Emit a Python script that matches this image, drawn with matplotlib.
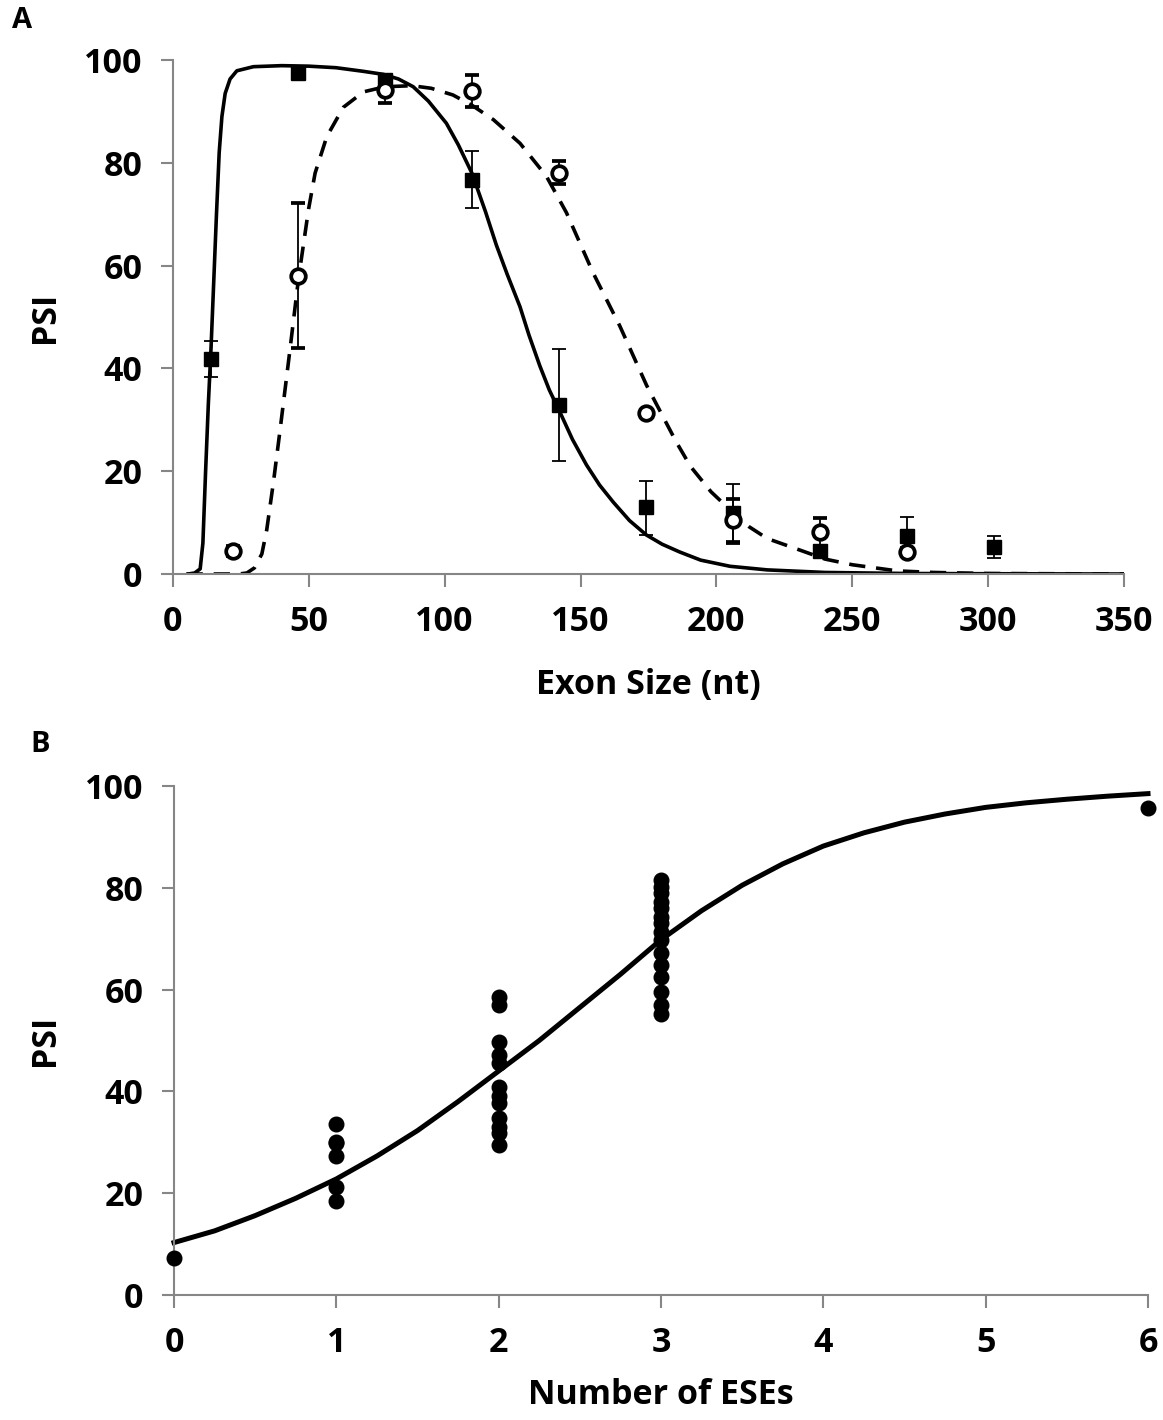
import numpy as np
import matplotlib
matplotlib.use('Agg')
import matplotlib.pyplot as plt

plt.rcParams['font.family'] = ['Open Sans', 'DejaVu Sans']
plt.rcParams['font.weight'] = 'bold'

# --- panel A: exon size series ---
sq_x = [14, 46, 78, 110, 142, 174, 206, 238, 270, 302]
sq_y = [41.8, 97.4, 96.2, 76.7, 32.8, 13.0, 11.8, 4.5, 7.3, 5.3]
sq_lo = [38.3, 96.8, 95.6, 71.3, 22.0, 7.6, 5.8, 3.8, 3.5, 3.2]
sq_hi = [45.4, 98.0, 96.8, 82.2, 43.7, 18.1, 17.5, 5.2, 11.1, 7.3]

circ_x = [22, 46, 78, 110, 142, 174, 206, 238, 270]
circ_y = [4.4, 58.0, 94.2, 93.9, 78.0, 31.3, 10.5, 8.1, 4.3]
circ_lo = [3.5, 44.0, 91.6, 90.8, 75.8, 30.5, 6.2, 5.5, 3.5]
circ_hi = [5.5, 72.2, 96.8, 97.1, 80.3, 32.0, 14.6, 10.9, 5.0]

# fitted curves, sampled from the figure
fit_solid_x = [5.6, 8, 10, 11, 12, 13, 14, 15, 16, 17, 18, 19.2, 21, 23.5, 29.6, 40, 50, 60,
               70, 77.5, 83, 88.4, 94, 100.6, 105, 110, 115, 119, 123, 127.7, 131, 135,
               138.5, 142.4, 147, 152.2, 157, 162, 168, 174.2, 180, 186.4, 194.2, 205,
               218.7, 240, 270, 300, 350]
fit_solid_y = [0, 0.2, 1.0, 6.0, 20.0, 33.0, 44.0, 57.0, 70.0, 82.0, 89.0, 93.5, 96.3, 97.9,
               98.7, 98.9, 98.8, 98.5, 97.8, 97.2, 96.3, 94.8, 92.0, 87.7, 83.5, 78.0, 70.5,
               64.0, 58.3, 52.0, 46.5, 40.5, 35.8, 31.5, 26.2, 21.2, 17.3, 14.0, 10.4, 7.6,
               5.8, 4.3, 2.7, 1.5, 0.8, 0.3, 0.1, 0.05, 0]

fit_dash_x = [5, 20, 25, 27.2, 30, 32.7, 34.5, 37, 39.4, 42.9, 46.2, 49.9, 52.3, 56.6, 62.7,
              70.1, 78, 88, 95, 103, 110, 117.9, 127.7, 137.4, 144.8, 154.6, 164.4, 174.3,
              185.2, 190.5, 198, 206.4, 212, 218.7, 231, 240, 250, 266.6, 280, 300, 350]
fit_dash_y = [0, 0, 0.05, 0.2, 1.2, 3.9, 8.6, 18.0, 28.0, 43.0, 57.5, 71.0, 78.0, 85.1, 90.8,
              93.8, 94.8, 95.0, 94.5, 93.2, 91.2, 88.4, 83.8, 77.4, 70.3, 58.6, 48.3, 36.7,
              25.7, 20.9, 16.0, 11.8, 9.2, 6.9, 4.6, 2.9, 1.8, 0.6, 0.3, 0.1, 0]

# --- panel B: number of ESEs ---
ese_x = ([0] + [1] * 6 + [2] * 12 + [3] * 15 + [6])
ese_psi = ([7.2]
           + [33.6, 30.0, 29.8, 27.3, 21.3, 18.5]
           + [58.6, 57.0, 49.8, 47.2, 45.5, 40.9, 39.0, 37.7, 34.7, 33.1, 31.8, 29.5]
           + [81.5, 80.2, 78.9, 77.3, 76.0, 74.3, 73.0, 71.4, 69.7, 67.1, 64.8, 62.5, 59.6,
              57.0, 55.3]
           + [95.6])

fit_b_x = [0, 0.25, 0.5, 0.75, 1, 1.25, 1.5, 1.75, 2, 2.25, 2.5, 2.75, 3, 3.25, 3.5, 3.75,
           4, 4.25, 4.5, 4.75, 5, 5.25, 5.5, 5.75, 6]
fit_b_y = [10.3, 12.6, 15.6, 19.0, 22.8, 27.3, 32.3, 38.0, 44.0, 50.0, 56.5, 63.0, 69.8,
           75.5, 80.5, 84.7, 88.2, 90.8, 92.9, 94.5, 95.8, 96.7, 97.4, 98.0, 98.5]

W, H = 1163, 1420
fig = plt.figure(figsize=(W / 100, H / 100), dpi=100)

grey = '#868686'
fs = 24.5


def style_axes(ax):
    for s in ['top', 'right']:
        ax.spines[s].set_visible(False)
    for s in ['left', 'bottom']:
        ax.spines[s].set_color(grey)
        ax.spines[s].set_linewidth(1.5)
    ax.tick_params(direction='out', length=9, width=1.5, color=grey,
                   labelsize=fs, pad=13)
    for lab in ax.get_xticklabels() + ax.get_yticklabels():
        lab.set_fontweight('bold')


# panel A
axA = fig.add_axes([173 / W, 1 - 574 / H, 951 / W, 514 / H])
axA.plot(fit_solid_x, fit_solid_y, color='black', lw=2.6, zorder=2)
axA.plot(fit_dash_x, fit_dash_y, color='black', lw=2.6, dashes=(4.5, 3), zorder=2)

sq_err = [np.array(sq_y) - np.array(sq_lo), np.array(sq_hi) - np.array(sq_y)]
circ_err = [np.array(circ_y) - np.array(circ_lo), np.array(circ_hi) - np.array(circ_y)]
axA.errorbar(sq_x, sq_y, yerr=sq_err, fmt='s', color='black', ms=10.5,
             ecolor='black', elinewidth=1.3, capsize=5, capthick=1.3, zorder=3)
axA.errorbar(circ_x, circ_y, yerr=circ_err, fmt='o', mfc='white', mec='black', mew=2.7,
             ms=10.5, ecolor='black', elinewidth=1.3, capsize=5, capthick=1.3, zorder=4)

axA.set_xlim(0, 350)
axA.set_ylim(0, 100)
axA.set_xticks(range(0, 351, 50))
axA.set_yticks(range(0, 101, 20))
style_axes(axA)
axA.set_xlabel('Exon Size (nt)', fontsize=fs, fontweight='bold')
axA.set_ylabel('PSI', fontsize=fs, fontweight='bold')
axA.xaxis.set_label_coords(0.5, -111 / 514)
axA.xaxis.label.set_va('center')
axA.yaxis.set_label_coords(-128 / 951, 0.5)
axA.yaxis.label.set_va('center')

# panel B
axB = fig.add_axes([174 / W, 1 - 1295 / H, 974 / W, 509 / H])
axB.plot(fit_b_x, fit_b_y, color='black', lw=3.6, zorder=2, clip_on=False)
axB.plot(ese_x, ese_psi, 'o', color='black', ms=10.5, zorder=3, clip_on=False)
axB.set_xlim(0, 6)
axB.set_ylim(0, 100)
axB.set_xticks(range(0, 7))
axB.set_yticks(range(0, 101, 20))
style_axes(axB)
axB.set_xlabel('Number of ESEs', fontsize=fs, fontweight='bold')
axB.set_ylabel('PSI', fontsize=fs, fontweight='bold')
axB.xaxis.set_label_coords(0.5, -100 / 509)
axB.xaxis.label.set_va('center')
axB.yaxis.set_label_coords(-129 / 974, 0.5)
axB.yaxis.label.set_va('center')

fig.text(22 / W, 1 - 20 / H, 'A', fontsize=21, fontweight='bold', ha='center', va='center')
fig.text(40 / W, 1 - 745 / H, 'B', fontsize=21, fontweight='bold', ha='center', va='center')

fig.savefig('out.png', dpi=100)
